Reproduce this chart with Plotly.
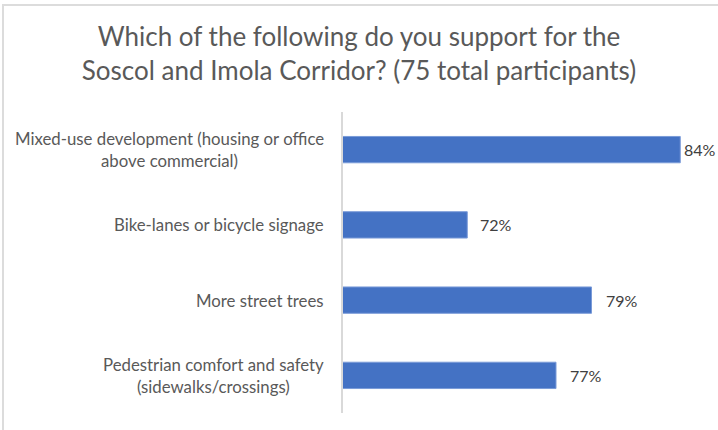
import plotly.graph_objects as go

# ---- data ----
categories = [
    "Mixed-use development (housing or office<br>above commercial)",
    "Bike-lanes or bicycle signage",
    "More street trees",
    "Pedestrian comfort and safety<br>(sidewalks/crossings)",
]
values = [0.84, 0.72, 0.79, 0.77]
value_labels = ["84%", "72%", "79%", "77%"]
label_gaps = [2, 11, 12, 12]
title_text = ("Which of the following do you support for the<br>"
              "Soscol and Imola Corridor? (75 total participants)")

# ---- layout geometry ----
W, H = 718, 430
ml, mr, mt, mb = 343, 20, 112, 17
pw, ph = W - ml - mr, H - mt - mb

def px_x(p):
    return (p - ml) / pw

def px_y(p):
    return (H - mb - p) / ph

fig = go.Figure()
fig.add_trace(go.Bar(
    y=categories, x=values, orientation="h",
    marker=dict(color="#4472C4", line=dict(color="#7a9bd8", width=1)),
    width=0.35, hoverinfo="skip",
))

annotations = []
for c, v, t, g in zip(categories, values, value_labels, label_gaps):
    annotations.append(dict(
        x=v, y=c, xref="x", yref="y", text=t, showarrow=False,
        xanchor="left", yanchor="middle", xshift=g,
        font=dict(family="Lato", size=16, color="#404040"),
    ))
    annotations.append(dict(
        x=0, y=c, xref="paper", yref="y", text=c, showarrow=False,
        xanchor="right", yanchor="middle", xshift=-17, align="center",
        font=dict(family="Lato", size=16.8, color="#595959"),
    ))

shapes = [
    dict(type="line", xref="paper", yref="paper",
         x0=px_x(3), x1=px_x(3), y0=px_y(5), y1=px_y(H),
         line=dict(color="#dcdcdc", width=2)),
    dict(type="line", xref="paper", yref="paper",
         x0=px_x(2), x1=px_x(W), y0=px_y(5), y1=px_y(5),
         line=dict(color="#dcdcdc", width=2)),
]

fig.update_layout(
    width=W, height=H,
    margin=dict(l=ml, r=mr, t=mt, b=mb),
    paper_bgcolor="white", plot_bgcolor="white",
    showlegend=False,
    title=dict(text=title_text, x=0.5, xref="container", xanchor="center",
               y=1 - 46 / H, yref="container", yanchor="middle",
               font=dict(family="Lato", size=26, color="#595959")),
    xaxis=dict(visible=False, range=[0.65, 0.85], fixedrange=True),
    yaxis=dict(autorange="reversed", showticklabels=False, ticks="",
               showline=True, linecolor="#d9d9d9", linewidth=2,
               showgrid=False, zeroline=False),
    annotations=annotations,
    shapes=shapes,
    bargap=0.65,
)

fig.write_html("out.html",
               config={"displayModeBar": False},
               post_script="document.body.style.margin='0';document.body.style.overflow='hidden';")
